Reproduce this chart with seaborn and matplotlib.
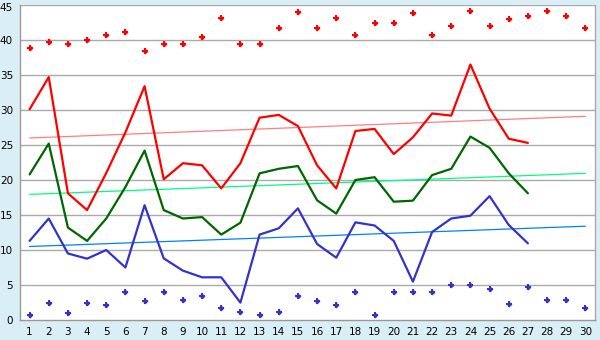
import numpy as np
import pandas as pd
import matplotlib
matplotlib.use("Agg")
import matplotlib.pyplot as plt
import matplotlib.transforms as mtransforms
import seaborn as sns

days = list(range(1, 31))

max_points = [38.8, 39.7, 39.4, 40.0, 40.7, 41.2, 38.4, 39.4, 39.4, 40.4,
              43.1, 39.4, 39.4, 41.7, 44.0, 41.7, 43.2, 40.7, 42.4, 42.5,
              43.8, 40.7, 42.0, 44.2, 42.0, 43.0, 43.4, 44.1, 43.5, 41.7]

min_points = [0.67, 2.4, 1.05, 2.4, 2.2, 3.95, 2.67, 3.95, 2.8, 3.43,
              1.7, 1.1, 0.67, 1.1, 3.38, 2.67, 2.14, 3.95, 0.67, 3.95,
              3.95, 3.95, 4.95, 4.95, 4.38, 2.24, 4.67, 2.8, 2.8, 1.67]

line_days = list(range(1, 28))
red_line = [30.1, 34.7, 18.1, 15.7, 21.0, 26.8, 33.4, 20.1, 22.4, 22.1,
            18.8, 22.4, 28.9, 29.3, 27.7, 22.1, 18.8, 27.0, 27.3, 23.7,
            26.1, 29.5, 29.2, 36.5, 30.2, 25.9, 25.3]
green_line = [20.8, 25.2, 13.2, 11.3, 14.5, 19.0, 24.2, 15.7, 14.5, 14.7,
              12.2, 13.9, 20.95, 21.6, 22.0, 17.1, 15.2, 20.0, 20.4, 16.9,
              17.05, 20.7, 21.6, 26.2, 24.6, 20.95, 18.1]
blue_line = [11.3, 14.5, 9.5, 8.76, 10.0, 7.5, 16.4, 8.8, 7.05, 6.1,
             6.1, 2.48, 12.2, 13.1, 15.95, 10.86, 8.9, 13.95, 13.5, 11.3,
             5.48, 12.57, 14.5, 14.9, 17.7, 13.57, 10.95]

trend_days = [1, 30]
red_trend = [26.0, 29.1]
green_trend = [17.95, 20.95]
blue_trend = [10.5, 13.4]

y_ticks = [0, 5, 10, 15, 20, 25, 30, 35, 40, 45]

sns.set_style("white")
plt.rcParams['font.family'] = ['DejaVu Sans']

bg = "#d9eff5"
fig = plt.figure(figsize=(6, 3.4), dpi=100, facecolor=bg)
ax = fig.add_axes([20/600, 20/340, 575/600, 315/340])
ax.set_facecolor("white")

for yv in y_ticks[1:]:
    ax.axhline(yv, color="#aaaaaa", lw=1.0, zorder=1)

lines_df = pd.DataFrame({"day": line_days, "red": red_line,
                         "green": green_line, "blue": blue_line})
trend_df = pd.DataFrame({"day": trend_days, "red": red_trend,
                         "green": green_trend, "blue": blue_trend})
pts_df = pd.DataFrame({"day": days, "max": max_points, "min": min_points})

sns.lineplot(data=trend_df, x="day", y="red", ax=ax, color="#ff7f7f", lw=0.9, zorder=2)
sns.lineplot(data=trend_df, x="day", y="green", ax=ax, color="#00ff80", lw=0.9, zorder=2)
sns.lineplot(data=trend_df, x="day", y="blue", ax=ax, color="#0080ff", lw=0.9, zorder=2)

sns.lineplot(data=lines_df, x="day", y="red", ax=ax, color="#ff0000", lw=1.6, zorder=3)
sns.lineplot(data=lines_df, x="day", y="green", ax=ax, color="#006600", lw=1.6, zorder=3)
sns.lineplot(data=lines_df, x="day", y="blue", ax=ax, color="#3333cc", lw=1.6, zorder=3)

for col, c in [("max", "#ff0000"), ("min", "#3333cc")]:
    sns.scatterplot(data=pts_df, x="day", y=col, ax=ax, color=c, marker="P",
                    s=20, linewidth=0, zorder=4)
    sns.scatterplot(data=pts_df, x="day", y=col, ax=ax, color=c, marker="D",
                    s=9, linewidth=0, zorder=4)

ax.set_xlim(0.5, 30.5)
ax.set_ylim(0, 45)
ax.set_xticks(days)
ax.set_xticklabels([str(d) for d in days])
ax.set_yticks(y_ticks)
ax.set_yticklabels([str(v) for v in y_ticks])
ax.set_xlabel("")
ax.set_ylabel("")
ax.tick_params(axis="both", which="major", labelsize=7.5, labelcolor="#000000",
               length=3, width=1, pad=2, direction="out", color="#888888")
for side in ["left", "bottom", "right"]:
    ax.spines[side].set_visible(True)
    ax.spines[side].set_color("#999999")
    ax.spines[side].set_linewidth(1.0)
ax.spines["right"].set_color("#aaaaaa")
ax.spines["top"].set_visible(False)

# nudge the top label down so it is not clipped by the figure edge
top_lbl = ax.get_yticklabels()[-1]
top_lbl.set_transform(top_lbl.get_transform() +
                      mtransforms.ScaledTranslation(0, -2/100, fig.dpi_scale_trans))

fig.savefig("out.png", dpi=100, facecolor=bg)
